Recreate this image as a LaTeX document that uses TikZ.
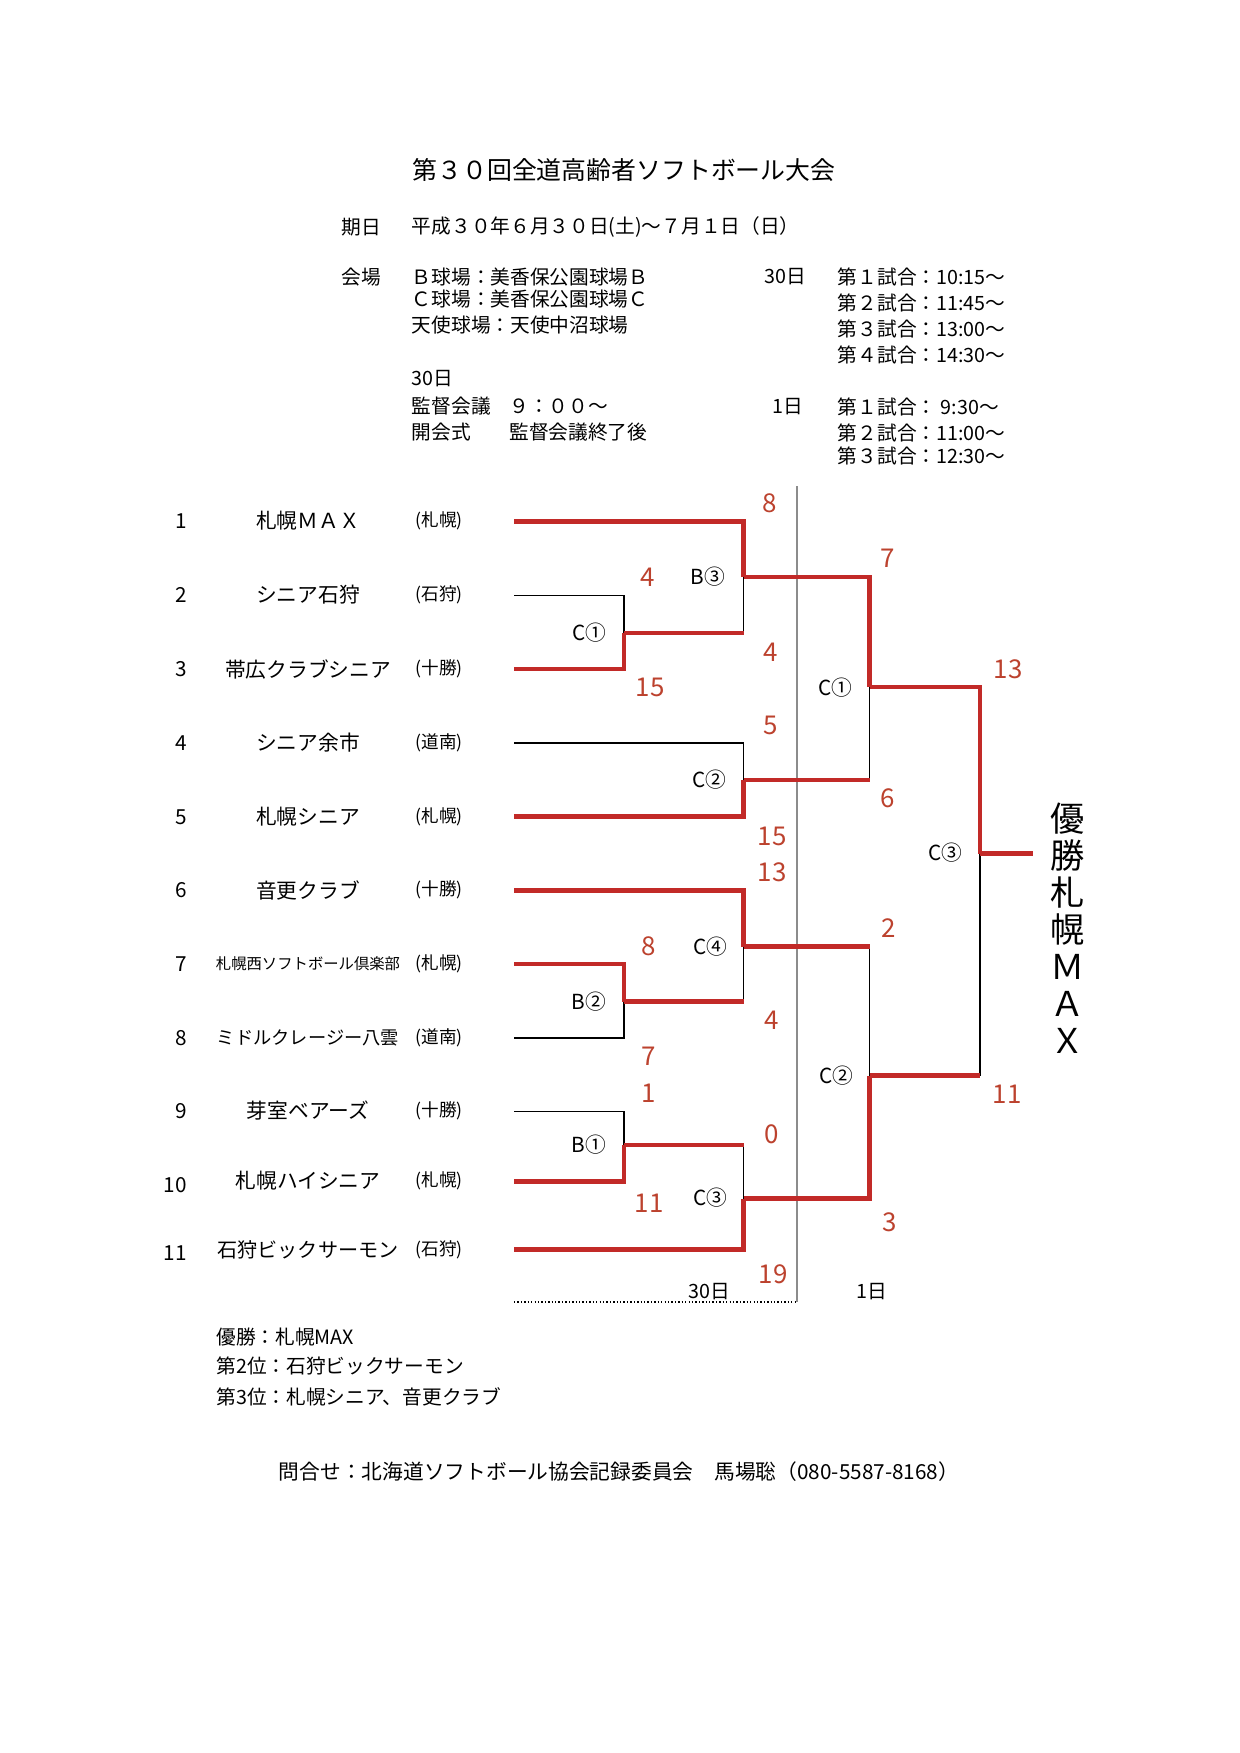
\documentclass[tikz,border=0pt]{standalone}
\usepackage{fontspec}
\setmainfont{Noto Sans CJK JP}
\definecolor{linered}{RGB}{194,42,40}
\definecolor{scorered}{RGB}{188,66,46}
\tikzset{
  head/.style  = {inner sep=0, font=\fontsize{12}{14}\selectfont},
  info/.style  = {anchor=west, inner sep=0, font=\fontsize{9.5}{11}\selectfont},
  num/.style   = {inner sep=0, font=\fontsize{10}{12}\selectfont},
  team/.style  = {inner sep=0, font=\fontsize{10}{12}\selectfont},
  pref/.style  = {inner sep=0, font=\fontsize{8.5}{10}\selectfont},
  score/.style = {inner sep=0, text=scorered, font=\fontsize{12.5}{14}\selectfont},
  game/.style  = {inner sep=0, font=\fontsize{10}{12}\selectfont},
  champ/.style = {inner sep=0, align=center, font=\fontsize{16.5}{17.8}\selectfont},
  win/.style   = {draw=linered, line width=2.3pt},
  lose/.style  = {draw=black, line width=0.65pt},
  divider/.style = {draw=black!45, line width=0.5pt},
}

\begin{document}
\begin{tikzpicture}[x=0.16949mm, y=-0.16949mm]
      \useasboundingbox (0,0) rectangle (1239,1753);

      % header
      \node[head] (title) at (624,170) {第３０回全道高齢者ソフトボール大会};
      \node[info] (dateh) at (341,227) {期日};
      \node[info] (date)  at (411.5,227) {平成３０年６月３０日(土)～７月１日（日）};
      \node[info] (siteh) at (341,277) {会場};
      \node[info] (siteb) at (411.5,277) {Ｂ球場：美香保公園球場Ｂ};
      \node[info] (sitec) at (411.5,299) {Ｃ球場：美香保公園球場Ｃ};
      \node[info] (sitet) at (411.5,325) {天使球場：天使中沼球場};
      \node[info] (day30) at (411.5,379) {30日};
      \node[info] (meet)  at (411.5,406) {監督会議};
      \node[info] (meett) at (509,406)   {９：００～};
      \node[info] (open)  at (411.5,432) {開会式};
      \node[info] (opent) at (509,432)   {監督会議終了後};
      \node[info] (d30)   at (764,277)   {30日};
      \node[info] (g301)  at (837.5,277) {第１試合：10:15～};
      \node[info] (g302)  at (837.5,303) {第２試合：11:45～};
      \node[info] (g303)  at (837.5,329) {第３試合：13:00～};
      \node[info] (g304)  at (837.5,355) {第４試合：14:30～};
      \node[info] (d1)    at (772,407)   {1日};
      \node[info] (g11)   at (837.5,407) {第１試合：\ 9:30～};
      \node[info] (g12)   at (837.5,433) {第２試合：11:00～};
      \node[info] (g13)   at (837.5,456) {第３試合：12:30～};

      % teams
      \node[num]  (n1)  at (181,521)   {1};
      \node[team] (tm1) at (308,521)   {札幌ＭＡＸ};
      \node[pref] (p1)  at (439,521)   {(札幌)};
      \node[num]  (n2)  at (181,595)   {2};
      \node[team] (tm2) at (308,595)   {シニア石狩};
      \node[pref] (p2)  at (439,595)   {(石狩)};
      \node[num]  (n3)  at (181,669)   {3};
      \node[team] (tm3) at (308,669)   {帯広クラブシニア};
      \node[pref] (p3)  at (439,669)   {(十勝)};
      \node[num]  (n4)  at (181,743)   {4};
      \node[team] (tm4) at (308,743)   {シニア余市};
      \node[pref] (p4)  at (439,743)   {(道南)};
      \node[num]  (n5)  at (181,817)   {5};
      \node[team] (tm5) at (308,817)   {札幌シニア};
      \node[pref] (p5)  at (439,817)   {(札幌)};
      \node[num]  (n6)  at (181,890)   {6};
      \node[team] (tm6) at (308,890)   {音更クラブ};
      \node[pref] (p6)  at (439,890)   {(十勝)};
      \node[num]  (n7)  at (181,964)   {7};
      \node[team, font=\fontsize{7.4}{9}\selectfont] (tm7) at (308,964) {札幌西ソフトボール倶楽部};
      \node[pref] (p7)  at (439,964)   {(札幌)};
      \node[num]  (n8)  at (181,1038)  {8};
      \node[team, font=\fontsize{8.8}{10}\selectfont] (tm8) at (308,1038) {ミドルクレージー八雲};
      \node[pref] (p8)  at (439,1038)  {(道南)};
      \node[num]  (n9)  at (181,1111)  {9};
      \node[team] (tm9) at (308,1111)  {芽室ベアーズ};
      \node[pref] (p9)  at (439,1111)  {(十勝)};
      \node[num]  (n10) at (175,1185)  {10};
      \node[team] (tm10) at (308,1181) {札幌ハイシニア};
      \node[pref] (p10) at (439,1181)  {(札幌)};
      \node[num]  (n11) at (175,1253)  {11};
      \node[team, font=\fontsize{9.7}{11}\selectfont] (tm11) at (308,1250) {石狩ビックサーモン};
      \node[pref] (p11) at (439,1250)  {(石狩)};

      % bracket points
      \coordinate (t1)  at (514,521.5);
      \coordinate (t2)  at (514,595.5);
      \coordinate (t3)  at (514,669);
      \coordinate (t4)  at (514,743);
      \coordinate (t5)  at (514,816.5);
      \coordinate (t6)  at (514,890.5);
      \coordinate (t7)  at (514,964);
      \coordinate (t8)  at (514,1038);
      \coordinate (t9)  at (514,1111.5);
      \coordinate (t10) at (514,1181.5);
      \coordinate (t11) at (514,1249.5);
      \coordinate (c1)  at (624,633);
      \coordinate (b2)  at (624,1001.5);
      \coordinate (b1)  at (624,1145);
      \coordinate (b3)  at (743.6,577);
      \coordinate (c2)  at (743.6,780);
      \coordinate (c4)  at (743.6,946.5);
      \coordinate (c3)  at (743.6,1198.5);
      \coordinate (s1)  at (869.5,687);
      \coordinate (s2)  at (869.5,1075.5);
      \coordinate (fin) at (980,853.5);
      \coordinate (top) at (1033,853.5);
      \coordinate (divtop) at (797,486);
      \coordinate (divbot) at (797,1302);
      \coordinate (dotl)   at (514,1302);

      \draw[divider] (divtop) -- (divbot);
      \draw[lose, densely dotted] (dotl) -- (divbot);

      % losing sides
      \draw[lose] (t2) -| (c1);
      \draw[lose] (c1 -| b3) -- (b3);
      \draw[lose] (t4) -| (c2);
      \draw[lose] (t8) -| (b2);
      \draw[lose] (b2 -| c4) -- (c4);
      \draw[lose] (t9) -| (b1);
      \draw[lose] (b1 -| c3) -- (c3);
      \draw[lose] (c2 -| s1) -- (s1);
      \draw[lose] (c4 -| s2) -- (s2);
      \draw[lose] (s2 -| fin) -- (fin);

      % winning sides
      \draw[win] (t3) -| (c1);
      \draw[win] (t1) -| (b3);
      \draw[win] (c1) -- (c1 -| b3);
      \draw[win] (t5) -| (c2);
      \draw[win] (t7) -| (b2);
      \draw[win] (t6) -| (c4);
      \draw[win] (b2) -- (b2 -| c4);
      \draw[win] (t10) -| (b1);
      \draw[win] (b1) -- (b1 -| c3);
      \draw[win] (t11) -| (c3);
      \draw[win] (b3) -| (s1);
      \draw[win] (c2) -- (c2 -| s1);
      \draw[win] (c3) -| (s2);
      \draw[win] (c4) -- (c4 -| s2);
      \draw[win] (s1) -| (fin);
      \draw[win] (s2) -- (s2 -| fin);
      \draw[win] (fin) -- (top);

      % game labels
      \node[game] (gc1) at (589,633)    {C①};
      \node[game] (gb2) at (589,1001.5) {B②};
      \node[game] (gb1) at (589,1145)   {B①};
      \node[game] (gb3) at (708,577)    {B③};
      \node[game] (gc2) at (709,780)    {C②};
      \node[game] (gc4) at (710,946.5)  {C④};
      \node[game] (gc3) at (710,1198)   {C③};
      \node[game] (gs1) at (835,688)    {C①};
      \node[game] (gs2) at (836,1076)   {C②};
      \node[game] (gfn) at (945,853)    {C③};

      % scores
      \node[score] (sc1)  at (770,503)  {8};
      \node[score] (sc2)  at (648,577)  {4};
      \node[score] (sc3)  at (650,687)  {15};
      \node[score] (sc4)  at (771,652)  {4};
      \node[score] (sc5)  at (771,725)  {5};
      \node[score] (sc6)  at (772,836)  {15};
      \node[score] (sc7)  at (772,872)  {13};
      \node[score] (sc8)  at (649,946)  {8};
      \node[score] (sc9)  at (772,1020) {4};
      \node[score] (sc10) at (649,1056) {7};
      \node[score] (sc11) at (649,1093) {1};
      \node[score] (sc12) at (772,1134) {0};
      \node[score] (sc13) at (649,1203) {11};
      \node[score] (sc14) at (773,1274) {19};
      \node[score] (sc15) at (888,558)  {7};
      \node[score] (sc16) at (888,798)  {6};
      \node[score] (sc17) at (889,928)  {2};
      \node[score] (sc18) at (890,1222) {3};
      \node[score] (sc19) at (1008,669) {13};
      \node[score] (sc20) at (1007,1094) {11};

      \node[info, anchor=center] (r30) at (709,1292) {30日};
      \node[info, anchor=center] (r1)  at (872,1292) {1日};

      \node[champ] (winner) at (1068,928) {優\\勝\\札\\幌\\Ｍ\\Ａ\\Ｘ};

      % results
      \node[info] (first)  at (216,1337) {優勝：札幌MAX};
      \node[info] (second) at (216,1366) {第2位：石狩ビックサーモン};
      \node[info] (third)  at (216,1397) {第3位：札幌シニア、音更クラブ};
      \node[info, anchor=center, font=\fontsize{10}{12}\selectfont] (contact) at (619,1472)
        {問合せ：北海道ソフトボール協会記録委員会　馬場聡（080-5587-8168）};
    \end{tikzpicture}
\end{document}
